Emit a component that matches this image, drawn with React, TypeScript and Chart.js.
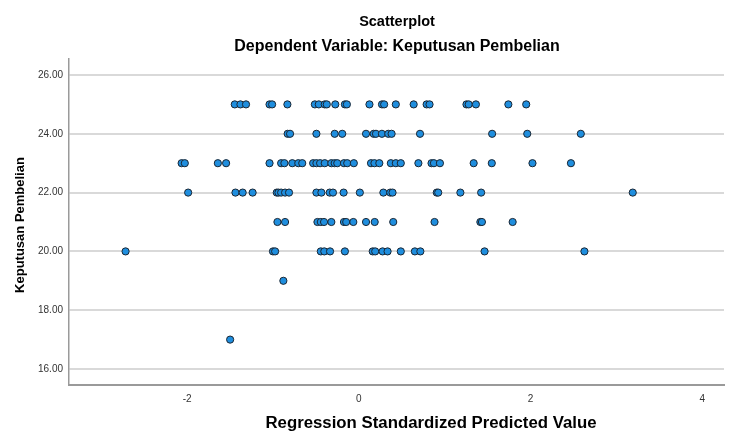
import React, { useEffect, useRef } from "react";
import { Chart, registerables } from "chart.js";

Chart.register(...registerables);

const chartTitle = "Scatterplot";
const chartSubtitle = "Dependent Variable: Keputusan Pembelian";
const xAxisTitle = "Regression Standardized Predicted Value";
const yAxisTitle = "Keputusan Pembelian";

const xTicks = [-2, 0, 2, 4];
const yTicks = [16, 18, 20, 22, 24, 26];

// Keputusan Pembelian levels and the standardized predicted values observed at each
const levels = [25, 24, 23, 22, 21, 20, 19, 17];
const predictedAt25 = [-1.445, -1.379, -1.314, -1.04, -1.01, -0.832, -0.512, -0.466, -0.397, -0.373, -0.274, -0.162, -0.139, 0.124, 0.27, 0.295, 0.431, 0.639, 0.79, 0.824, 1.254, 1.28, 1.364, 1.742, 1.95];
const predictedAt24 = [-0.829, -0.801, -0.494, -0.281, -0.193, 0.084, 0.173, 0.2, 0.269, 0.343, 0.382, 0.713, 1.553, 1.962, 2.586];
const predictedAt23 = [-2.064, -2.027, -1.642, -1.546, -1.04, -0.905, -0.867, -0.775, -0.705, -0.659, -0.532, -0.494, -0.451, -0.397, -0.32, -0.281, -0.251, -0.173, -0.135, -0.058, 0.142, 0.182, 0.239, 0.373, 0.431, 0.489, 0.694, 0.847, 0.875, 0.945, 1.338, 1.549, 2.023, 2.471];
const predictedAt22 = [-1.988, -1.437, -1.353, -1.237, -0.956, -0.936, -0.905, -0.859, -0.813, -0.494, -0.436, -0.339, -0.301, -0.177, 0.012, 0.286, 0.366, 0.393, 0.908, 0.925, 1.183, 1.425, 3.191];
const predictedAt21 = [-0.948, -0.859, -0.482, -0.443, -0.405, -0.32, -0.173, -0.147, -0.064, 0.084, 0.185, 0.401, 0.882, 1.416, 1.434, 1.792];
const predictedAt20 = [-2.717, -1.0, -0.975, -0.443, -0.402, -0.335, -0.162, 0.162, 0.191, 0.277, 0.335, 0.489, 0.653, 0.717, 1.465, 2.628];
const predictedAt19 = [-0.879];
const predictedAt17 = [-1.499];

const predictedByLevel = [predictedAt25, predictedAt24, predictedAt23, predictedAt22, predictedAt21, predictedAt20, predictedAt19, predictedAt17];

const FONT = "'Liberation Sans', Arial, sans-serif";

const titlesPlugin = {
  id: "spssTitles",
  afterDraw(chart: any) {
    const ctx = chart.ctx as CanvasRenderingContext2D;
    ctx.save();
    ctx.fillStyle = "#000";
    ctx.textAlign = "center";
    ctx.textBaseline = "middle";
    ctx.font = `bold 14.5px ${FONT}`;
    ctx.fillText(chartTitle, 397, 22);
    ctx.font = `bold 16px ${FONT}`;
    ctx.fillText(chartSubtitle, 397, 47);
    ctx.font = `bold 16.8px ${FONT}`;
    ctx.fillText(xAxisTitle, 431, 423);
    ctx.translate(20, 225);
    ctx.rotate(-Math.PI / 2);
    ctx.font = `bold 13px ${FONT}`;
    ctx.fillText(yAxisTitle, 0, 0);
    ctx.restore();
  },
};

export default function App() {
  const ref = useRef<HTMLCanvasElement>(null);
  useEffect(() => {
    const points: { x: number; y: number }[] = [];
    levels.forEach((lv, i) => predictedByLevel[i].forEach((x) => points.push({ x, y: lv })));
    const chart = new Chart(ref.current!, {
      type: "scatter",
      data: {
        datasets: [
          {
            data: points,
            backgroundColor: "#1f8ede",
            borderColor: "#1a2633",
            borderWidth: 1,
            pointRadius: 3.6,
          },
        ],
      },
      options: {
        animation: false,
        responsive: false,
        layout: { padding: { top: 59, right: 0, left: 0, bottom: 0 } },
        plugins: { legend: { display: false }, tooltip: { enabled: false }, title: { display: false } },
        scales: {
          x: {
            type: "linear",
            min: -3.376,
            max: 4.254,
            afterFit(s: any) {
              s.height = 46;
              s.paddingLeft = 0;
              s.paddingRight = 0;
            },
            afterBuildTicks(s: any) {
              s.ticks = xTicks.map((v) => ({ value: v }));
            },
            grid: { display: false, drawTicks: false },
            border: { display: true, color: "#9a9a9a", width: 2 },
            ticks: {
              padding: 8,
              color: "#333",
              font: { family: FONT, size: 10 },
              callback: (v: any) => String(v),
            },
          },
          y: {
            type: "linear",
            min: 15.456,
            max: 26.544,
            afterFit(s: any) {
              s.width = 69;
              s.paddingTop = 0;
              s.paddingBottom = 0;
            },
            afterBuildTicks(s: any) {
              s.ticks = yTicks.map((v) => ({ value: v }));
            },
            grid: { display: true, drawTicks: false, color: "#d9d9d9", lineWidth: 2 },
            border: { display: true, color: "#9a9a9a", width: 1.5 },
            ticks: {
              padding: 6,
              color: "#333",
              font: { family: FONT, size: 10 },
              callback: (v: any) => Number(v).toFixed(2),
            },
          },
        },
      },
      plugins: [titlesPlugin],
    });
    return () => chart.destroy();
  }, []);
  return (
    <div style={{ position: "fixed", left: 0, top: 0, width: 729, height: 431, background: "#fff" }}>
      <canvas ref={ref} width={729} height={431} style={{ width: 729, height: 431 }} />
    </div>
  );
}
